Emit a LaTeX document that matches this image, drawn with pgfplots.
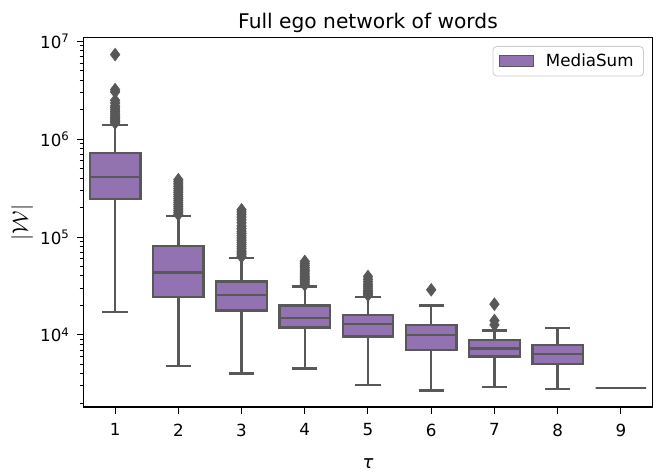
\documentclass[border=0pt]{standalone}
\usepackage{fontspec}
\setmainfont{DejaVu Sans}
\usepackage{pgfplots}
\pgfplotsset{compat=1.18}

\definecolor{boxfill}{RGB}{147,114,178}
\definecolor{boxline}{RGB}{88,88,88}

\pgfplotsset{
  patchlegend/.style={legend image code/.code={
    \draw[sharp corners, fill=boxfill, draw=boxline, line width=0.5pt] (0pt,-2.75pt) rectangle (17pt,2.75pt);}},
}

% one box: position, lower whisker, Q1, median, Q3, upper whisker
\newcommand{\tbox}[6]{%
  \pgfmathsetmacro{\boxL}{#1-0.4}\pgfmathsetmacro{\boxR}{#1+0.4}%
  \pgfmathsetmacro{\capL}{#1-0.2}\pgfmathsetmacro{\capR}{#1+0.2}%
  \addplot[whisk] coordinates {(#1,#2) (#1,#3)};
  \addplot[whisk] coordinates {(#1,#5) (#1,#6)};
  \addplot[whisk] coordinates {(\capL,#2) (\capR,#2)};
  \addplot[whisk] coordinates {(\capL,#6) (\capR,#6)};
  \addplot[boxst] coordinates {(\boxL,#3) (\boxR,#3) (\boxR,#5) (\boxL,#5)} -- cycle;
  \addplot[whisk] coordinates {(\boxL,#4) (\boxR,#4)};
}

\begin{document}
\begin{tikzpicture}
\useasboundingbox (-41.75pt,-34pt) rectangle (290.75pt,203.5pt);
\begin{axis}[
    scale only axis,
    width=284.5pt, height=184.65pt,
    ymode=log,
    xmin=0.5, xmax=9.5,
    ymin=1830, ymax=1.094e7,
    xtick={1,...,9},
    ytick={1e4,1e5,1e6,1e7},
    yticklabels={10\textsuperscript{4},10\textsuperscript{5},10\textsuperscript{6},10\textsuperscript{7}},
    minor ytick={2000,3000,4000,5000,6000,7000,8000,9000,
                 20000,30000,40000,50000,60000,70000,80000,90000,
                 2e5,3e5,4e5,5e5,6e5,7e5,8e5,9e5,
                 2e6,3e6,4e6,5e6,6e6,7e6,8e6,9e6},
    /pgf/number format/assume math mode=true,
    tick align=outside,
    major tick length=3.3pt,
    minor tick length=1.9pt,
    tick style={black, line width=0.5pt},
    xtick pos=bottom, ytick pos=left,
    axis line style={line width=0.75pt},
    tick label style={font=\fontsize{8.35}{10}\selectfont},
    xticklabel style={yshift=-1.5pt},
    title={Full ego network of words},
    every axis title shift=0pt,
    title style={at={(axis description cs:0.5,1)}, anchor=base, yshift=4.7pt,
                 font=\fontsize{10.1}{12}\selectfont},
    xlabel={\itshape τ},
    xlabel style={at={(axis description cs:0.5,-0.152)}, anchor=center,
                  font=\fontsize{9}{10}\selectfont},
    ylabel={$|\mathcal{W}|$},
    ylabel style={at={(axis description cs:-0.108,0.5)}, anchor=center,
                  font=\fontsize{11}{12}\selectfont},
    legend style={at={(axis description cs:1,1)}, anchor=north east,
                  xshift=-4.25pt, yshift=-4.15pt,
                  draw=black!20, rounded corners=2pt,
                  font=\fontsize{8.35}{10}\selectfont,
                  inner xsep=3pt, inner ysep=1.5pt,
                  /tikz/every odd column/.append style={column sep=4pt}},
    whisk/.style={draw=boxline, line width=1.2pt, mark=none},
    boxst/.style={draw=boxline, fill=boxfill, line width=1.2pt, mark=none},
    outl/.style={only marks, mark=diamond*, mark size=3.1pt,
                 mark options={fill=boxline, draw=boxline}},
]
\addlegendimage{patchlegend}
\addlegendentry{MediaSum}

\tbox{1}{17200}{243800}{414000}{729000}{1400000}
\tbox{2}{4820}{24300}{43400}{81500}{164000}
\tbox{3}{4020}{17700}{25700}{35100}{61000}
\tbox{4}{4520}{11880}{14800}{19950}{31200}
\tbox{5}{3055}{9610}{12870}{16000}{24500}
\tbox{6}{2690}{7020}{10000}{12650}{19950}
\tbox{7}{2935}{6000}{7240}{8890}{11070}
\tbox{8}{2780}{5050}{6340}{7850}{11710}
\tbox{9}{2845}{2845}{2845}{2845}{2845}

% outliers
\addplot[outl] coordinates {
  (1,1.47e6) (1,1.52e6) (1,1.57e6) (1,1.62e6) (1,1.68e6) (1,1.75e6)
  (1,1.83e6) (1,1.91e6) (1,2.0e6) (1,2.1e6) (1,2.2e6) (1,2.35e6) (1,2.5e6)
  (1,3.05e6) (1,3.22e6) (1,7.35e6)};
\addplot[outl] coordinates {
  (2,170000) (2,178000) (2,186000) (2,195000) (2,204000) (2,214000)
  (2,225000) (2,236000) (2,248000) (2,260000) (2,273000) (2,287000) (2,301000)
  (2,316000) (2,332000) (2,350000) (2,368000) (2,386000)};
\addplot[outl] coordinates {
  (3,63000) (3,66000) (3,69000) (3,72000) (3,76000) (3,80000)
  (3,84000) (3,88000) (3,93000) (3,98000) (3,103000) (3,109000) (3,115000)
  (3,122000) (3,130000) (3,140000) (3,150000) (3,160000) (3,170000) (3,180000)
  (3,190000)};
\addplot[outl] coordinates {
  (4,32500) (4,34000) (4,35500) (4,37000) (4,38500) (4,40000)
  (4,42000) (4,44000) (4,46000) (4,48500) (4,51000) (4,53500) (4,56300)};
\addplot[outl] coordinates {
  (5,25500) (5,26500) (5,27500) (5,28500) (5,30000) (5,31500)
  (5,33000) (5,35000) (5,37000) (5,39500)};
\addplot[outl] coordinates {(6,28900)};
\addplot[outl] coordinates {(7,12650) (7,14000) (7,20600)};
\end{axis}
\end{tikzpicture}
\end{document}
